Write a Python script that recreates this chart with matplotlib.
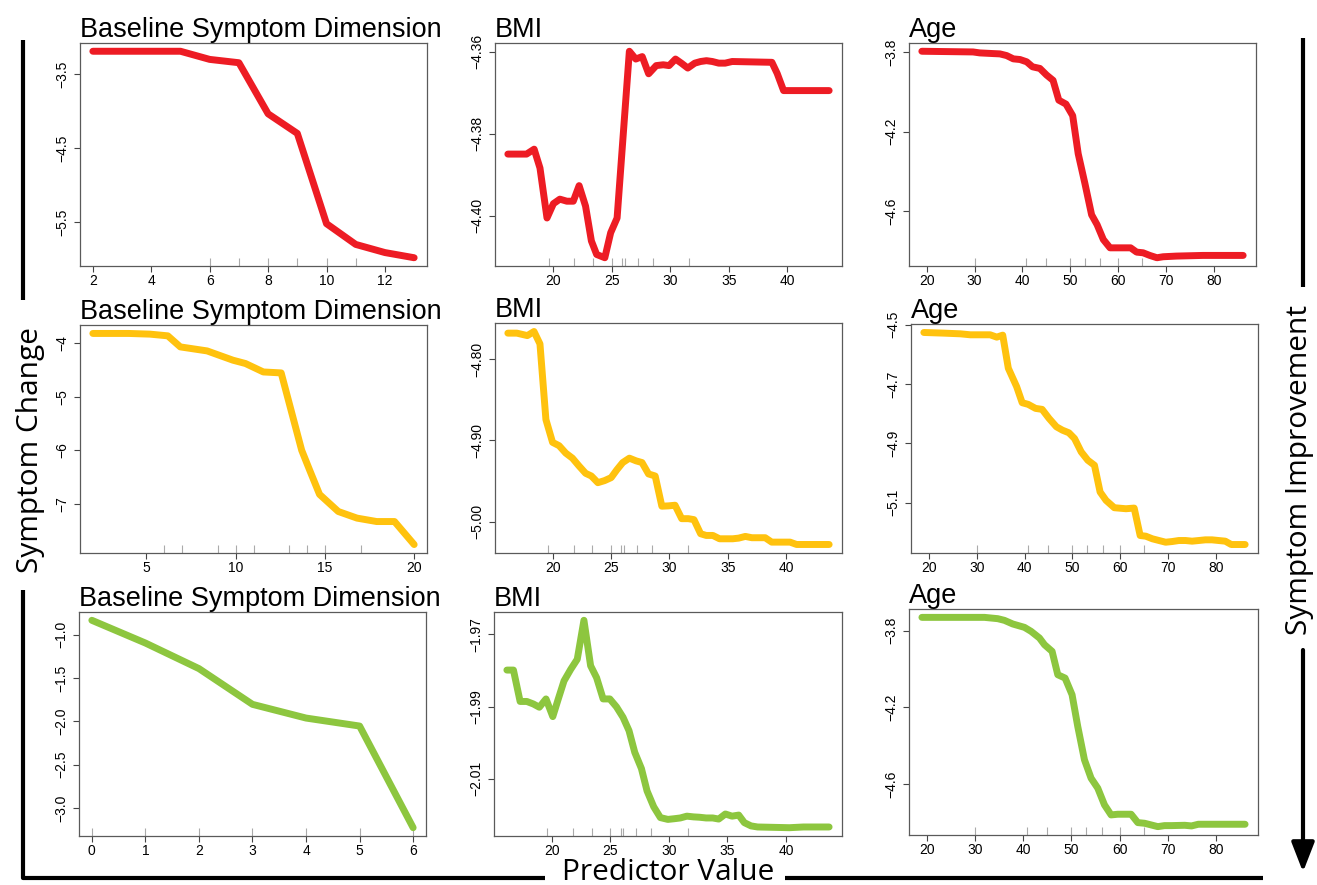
import matplotlib
matplotlib.use("Agg")
import matplotlib.pyplot as plt
from matplotlib.lines import Line2D
from matplotlib.patches import FancyArrowPatch

# ---------------- data ----------------
titles = ["Baseline Symptom Dimension", "BMI", "Age"]
row_colors = ["#ED1C24", "#FFC20E", "#8DC63F"]

# Row 1 (red)
r_base_x = [2, 3, 4, 5, 6, 7, 8, 9, 10, 11, 12, 13]
r_base_y = [-3.19, -3.19, -3.19, -3.19, -3.30, -3.345, -4.035, -4.30, -5.52, -5.80, -5.91, -5.98]
r_bmi_x = [16.1, 17.7, 18.35, 18.85, 19.45, 20.0, 20.55, 21.15, 21.7, 22.2, 22.75, 23.25, 23.7,
           24.4, 24.9, 25.45, 26.5, 27.05, 27.6, 28.15, 28.8, 29.4, 29.9, 30.45, 30.95, 31.5,
           32.1, 32.6, 33.1, 33.6, 34.15, 34.7, 35.3, 38.7, 39.15, 39.7, 43.6]
r_bmi_y = [-4.3850, -4.3850, -4.3838, -4.3884, -4.4006, -4.3971, -4.3960, -4.3965, -4.3965,
           -4.3927, -4.3977, -4.4062, -4.4095, -4.4103, -4.4042, -4.4006, -4.3599, -4.3618,
           -4.3612, -4.3654, -4.3634, -4.3632, -4.3634, -4.3618, -4.3628, -4.3640, -4.3628,
           -4.3624, -4.3622, -4.3624, -4.3628, -4.3628, -4.3624, -4.3626, -4.3653, -4.3695,
           -4.3695]
r_age_x = [19.0, 29.7, 31.1, 33.9, 35.3, 36.7, 38.1, 39.5, 40.9, 42.1, 43.65, 45.05, 46.4,
           47.6, 49.1, 50.5, 51.65, 53.05, 54.45, 55.6, 56.9, 58.3, 61.05, 62.6, 63.85, 65.2,
           66.6, 68.1, 69.4, 72.2, 77.7, 86.1]
r_age_y = [-3.795, -3.7985, -3.8033, -3.8067, -3.8083, -3.8167, -3.8333, -3.8367, -3.8483,
           -3.8733, -3.8817, -3.915, -3.9417, -4.0417, -4.0617, -4.12, -4.3117, -4.4617,
           -4.62, -4.67, -4.745, -4.7867, -4.7867, -4.7867, -4.8083, -4.8117, -4.825,
           -4.8367, -4.8317, -4.8283, -4.825, -4.825]

# Row 2 (yellow)
y_base_x = [2, 4, 5.2, 6.2, 6.9, 8.4, 9.85, 10.55, 11.55, 12.55, 13.7, 14.15, 14.7, 15.75,
            16.8, 17.9, 18.9, 20.0]
y_base_y = [-3.812, -3.812, -3.825, -3.857, -4.064, -4.139, -4.313, -4.375, -4.533, -4.551,
            -6.0, -6.375, -6.826, -7.146, -7.27, -7.334, -7.334, -7.765]
y_bmi_x = [16.17, 16.94, 17.84, 18.41, 18.92, 19.43, 20.0, 20.56, 21.13, 21.70, 22.26, 22.83,
           23.32, 23.88, 24.45, 25.02, 25.50, 26.01, 26.58, 27.15, 27.66, 28.22, 28.79, 29.36,
           29.92, 30.49, 31.06, 31.63, 32.11, 32.68, 33.16, 33.73, 34.30, 34.86, 35.43, 35.94,
           36.51, 37.07, 37.64, 38.21, 38.77, 39.34, 40.34, 40.90, 41.62, 43.69]
y_bmi_y = [-4.7682, -4.7682, -4.7712, -4.7662, -4.7814, -4.8743, -4.9023, -4.9064, -4.9155,
           -4.9217, -4.9312, -4.9403, -4.9436, -4.9518, -4.9493, -4.9456, -4.9361, -4.9271,
           -4.9217, -4.9250, -4.9271, -4.9411, -4.9436, -4.9807, -4.9803, -4.9795, -4.9960,
           -4.9960, -4.9972, -5.0145, -5.0166, -5.0166, -5.0207, -5.0207, -5.0207, -5.0199,
           -5.0178, -5.0194, -5.0194, -5.0194, -5.0248, -5.0248, -5.0248, -5.0277, -5.0277,
           -5.0277]
y_age_x = [18.96, 23.11, 26.58, 28.66, 32.81, 34.2, 35.44, 36.61, 38.35, 39.51, 40.76, 42.3,
           43.67, 45.12, 46.66, 47.90, 49.27, 50.45, 51.84, 53.22, 54.61, 55.79, 57.03, 58.76,
           61.19, 62.91, 64.16, 65.34, 66.71, 68.10, 69.49, 70.86, 72.25, 73.64, 75.01, 76.40,
           77.79, 79.16, 80.56, 81.95, 83.19, 86.10]
y_age_y = [-4.5260, -4.5282, -4.5305, -4.5338, -4.5338, -4.5417, -4.5350, -4.6466, -4.7087,
           -4.7629, -4.7684, -4.7820, -4.7853, -4.8158, -4.8440, -4.8553, -4.8643, -4.8837,
           -4.9287, -4.9569, -4.9738, -5.0640, -5.0922, -5.1170, -5.1204, -5.1182, -5.2107,
           -5.2130, -5.2218, -5.2276, -5.2333, -5.2310, -5.2276, -5.2276, -5.2298, -5.2276,
           -5.2253, -5.2253, -5.2276, -5.2298, -5.2411, -5.2411]

# Row 3 (green)
g_base_x = [0, 1, 2, 3, 4, 5, 6]
g_base_y = [-0.835, -1.097, -1.392, -1.804, -1.962, -2.054, -3.226]
g_bmi_x = [16.17, 16.73, 17.30, 17.87, 18.43, 18.94, 19.51, 20.09, 20.56, 21.05, 21.62, 22.18,
           22.75, 23.32, 23.83, 24.39, 24.96, 25.53, 26.09, 26.60, 27.09, 27.66, 28.14, 28.71,
           29.28, 29.92, 30.49, 30.98, 31.54, 32.11, 32.62, 33.19, 33.75, 34.26, 34.83, 35.40,
           35.97, 36.45, 37.02, 37.58, 40.3, 41.5, 43.69]
g_bmi_y = [-1.9799, -1.9799, -1.9886, -1.9886, -1.9893, -1.9902, -1.9879, -1.9928, -1.9879,
           -1.9829, -1.9797, -1.9769, -1.9661, -1.9787, -1.9820, -1.9879, -1.9879, -1.9901,
           -1.9930, -1.9967, -2.0027, -2.0072, -2.0134, -2.0178, -2.0208, -2.0213, -2.0211,
           -2.0209, -2.0204, -2.0206, -2.0207, -2.0209, -2.0209, -2.0212, -2.0198, -2.0204,
           -2.0201, -2.0222, -2.0231, -2.0234, -2.0236, -2.0234, -2.0234]
g_age_x = [19.0, 31.97, 34.72, 36.11, 37.83, 40.26, 41.63, 43.37, 44.41, 45.99, 47.17, 48.68,
           50.13, 51.31, 52.70, 54.07, 55.46, 56.85, 58.22, 59.61, 61.0, 62.37, 63.76, 65.15,
           66.52, 67.91, 69.29, 70.7, 73.5, 74.9, 76.3, 86.0]
g_age_y = [-3.7305, -3.7305, -3.7373, -3.7461, -3.7650, -3.7827, -3.8035, -3.8383, -3.8732,
           -3.9081, -4.0301, -4.0475, -4.1346, -4.3003, -4.4745, -4.5702, -4.6225, -4.7098,
           -4.7621, -4.7586, -4.7586, -4.7586, -4.8023, -4.8057, -4.8144, -4.8233, -4.8180,
           -4.8180, -4.8163, -4.8196, -4.8109, -4.8109]

# rug (decile) marks
r_base_rug = [6, 7, 8, 9, 10, 11]
y_base_rug = [6, 7, 9, 10, 11, 13, 14, 15, 17]
g_base_rug = [0, 1, 2, 3, 4, 5, 6]
bmi_rug = [19.6, 21.8, 23.4, 25.0, 25.9, 26.1, 27.2, 28.5, 31.6]
age_rug = [30, 40.7, 45, 50, 53, 56.3, 60, 65]

# tick values / labels
r_base_xt = [2, 4, 6, 8, 10, 12]
r_base_yt = [-3.5, -4.5, -5.5]
r_base_yl = ["\u22123.5", "\u22124.5", "\u22125.5"]
r_bmi_yt = [-4.36, -4.38, -4.40]
r_bmi_yl = ["\u22124.36", "\u22124.38", "\u22124.40"]
r_age_yt = [-3.8, -4.2, -4.6]
r_age_yl = ["\u22123.8", "\u22124.2", "\u22124.6"]
y_base_xt = [5, 10, 15, 20]
y_base_yt = [-4, -5, -6, -7]
y_base_yl = ["\u22124", "\u22125", "\u22126", "\u22127"]
y_bmi_yt = [-4.80, -4.90, -5.00]
y_bmi_yl = ["\u22124.80", "\u22124.90", "\u22125.00"]
y_age_yt = [-4.5, -4.7, -4.9, -5.1]
y_age_yl = ["\u22124.5", "\u22124.7", "\u22124.9", "\u22125.1"]
g_base_xt = [0, 1, 2, 3, 4, 5, 6]
g_base_yt = [-1.0, -1.5, -2.0, -2.5, -3.0]
g_base_yl = ["\u22121.0", "\u22121.5", "\u22122.0", "\u22122.5", "\u22123.0"]
g_bmi_yt = [-1.97, -1.99, -2.01]
g_bmi_yl = ["\u22121.97", "\u22121.99", "\u22122.01"]
g_age_yt = [-3.8, -4.2, -4.6]
g_age_yl = ["\u22123.8", "\u22124.2", "\u22124.6"]
bmi_xt = [20, 25, 30, 35, 40]
age_xt = [20, 30, 40, 50, 60, 70, 80]

# ---------------- layout ----------------
W, H = 1317, 885
fig = plt.figure(figsize=(W / 100, H / 100), dpi=100)
fig.patch.set_facecolor("white")

def frac(px, py):
    return px / W, 1 - py / H

# pixel boxes: left, top, right, bottom
boxes = [
    [(80, 43, 427, 266), (495, 43, 842, 266), (909, 43, 1256, 266)],
    [(80, 325, 427, 553), (495, 323, 842, 553), (911, 324, 1258, 553)],
    [(79, 612, 426, 836), (494, 612, 842, 836), (909, 609, 1258, 835)],
]

panels = [
    [(r_base_x, r_base_y, r_base_rug, r_base_xt, r_base_yt, r_base_yl),
     (r_bmi_x, r_bmi_y, bmi_rug, bmi_xt, r_bmi_yt, r_bmi_yl),
     (r_age_x, r_age_y, age_rug, age_xt, r_age_yt, r_age_yl)],
    [(y_base_x, y_base_y, y_base_rug, y_base_xt, y_base_yt, y_base_yl),
     (y_bmi_x, y_bmi_y, bmi_rug, bmi_xt, y_bmi_yt, y_bmi_yl),
     (y_age_x, y_age_y, age_rug, age_xt, y_age_yt, y_age_yl)],
    [(g_base_x, g_base_y, g_base_rug, g_base_xt, g_base_yt, g_base_yl),
     (g_bmi_x, g_bmi_y, bmi_rug, bmi_xt, g_bmi_yt, g_bmi_yl),
     (g_age_x, g_age_y, age_rug, age_xt, g_age_yt, g_age_yl)],
]

tick_font = "Liberation Sans"
for ri in range(3):
    for ci in range(3):
        l, t, r, b = boxes[ri][ci]
        ax = fig.add_axes([l / W, 1 - b / H, (r - l) / W, (b - t) / H])
        xs, ys, rug, xt, yt, yl = panels[ri][ci]
        ax.plot(xs, ys, color=row_colors[ri], lw=5.0, solid_capstyle="round",
                solid_joinstyle="round", zorder=3)
        ax.margins(x=0.04, y=0.04)
        ax.vlines(rug, 0, 0.035, transform=ax.get_xaxis_transform(),
                  color="#aaaaaa", lw=0.8, zorder=2)
        ax.set_xticks(xt)
        ax.set_xticklabels([str(v) for v in xt], fontfamily=tick_font, fontsize=10)
        ax.set_yticks(yt)
        ax.set_yticklabels(yl, fontfamily=tick_font, fontsize=10, rotation=90, va="center")
        ax.tick_params(axis="both", direction="out", length=4.5, width=0.8, color="#444444")
        ax.tick_params(axis="x", pad=1.5)
        ax.tick_params(axis="y", pad=3.5)
        for s in ax.spines.values():
            s.set_color("#5a5a5a")
            s.set_linewidth(0.9)
        ax.set_title(titles[ci], loc="left", pad=3, fontfamily=tick_font, fontsize=19.5)

# ---------------- outer decorations ----------------
def fline(xs_px, ys_px, lw=3.0):
    fx = [x / W for x in xs_px]
    fy = [1 - y / H for y in ys_px]
    fig.add_artist(Line2D(fx, fy, transform=fig.transFigure, color="black", lw=lw,
                          solid_capstyle="butt"))

fline([23, 23], [40, 300])
fline([23, 23, 545], [590, 878, 878])
fline([785, 1263], [878, 878])
fline([1303, 1303], [38, 287])

arrow = FancyArrowPatch(frac(1303, 650), frac(1303, 872), transform=fig.transFigure,
                        arrowstyle="-|>,head_length=18,head_width=7", mutation_scale=1,
                        color="black", lw=3.0, shrinkA=0, shrinkB=0)
fig.add_artist(arrow)

outer_font = "Open Sans"
fig.text(*frac(31, 450), "Symptom Change", rotation=90, ha="center", va="center",
         fontfamily=outer_font, fontsize=21.5)
fig.text(*frac(1300, 470), "Symptom Improvement", rotation=90, ha="center", va="center",
         fontfamily=outer_font, fontsize=21.5)
fig.text(*frac(668, 872), "Predictor Value", ha="center", va="center",
         fontfamily=outer_font, fontsize=21.5)

fig.savefig("out.png", dpi=100)
